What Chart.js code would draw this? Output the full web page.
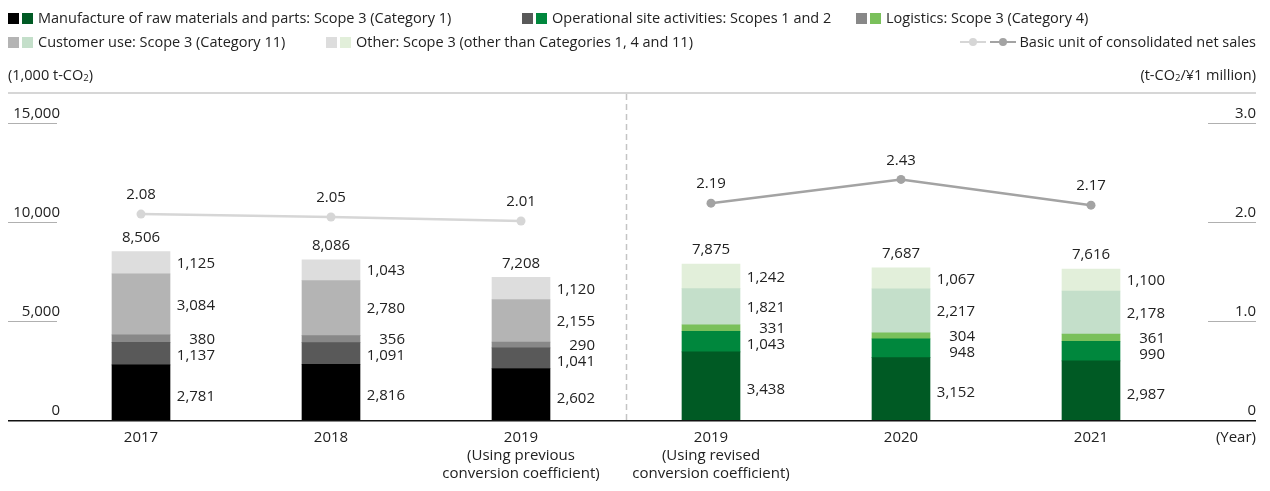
<!DOCTYPE html>
<html>
<head>
<meta charset="utf-8">
<title>CO2 emissions</title>
<script src="https://cdn.jsdelivr.net/npm/chart.js"></script>
<style>
  body {
    margin: 0;
    background: #fff;
    font-family: "Open Sans", sans-serif;
    color: #222;
  }
  .wrap {
    position: relative;
    width: 1270px;
    height: 491px;
  }
  .legend-item {
    position: absolute;
    font-size: 14.5px;
    line-height: 18px;
    white-space: nowrap;
    display: flex;
    align-items: center;
  }
  .sw {
    display: inline-block;
    width: 11px;
    height: 11px;
    margin-right: 3px;
  }
  .ln {
    position: relative;
    display: inline-block;
    width: 26px;
    height: 2px;
    margin-right: 4px;
  }
  .ln i {
    position: absolute;
    left: 9px;
    top: -3px;
    width: 8px;
    height: 8px;
    border-radius: 50%;
  }
  .unit {
    position: absolute;
    top: 66px;
    font-size: 14.5px;
    line-height: 18px;
  }
  .unit sub {
    font-size: 9.5px;
    vertical-align: -1px;
  }
</style>
</head>
<body>
<div class="wrap">
  <canvas id="emissionsChart" width="1270" height="491"></canvas>
  <div id="legend"></div>
  <div class="unit" style="left:8px">(1,000 t-CO<sub>2</sub>)</div>
  <div class="unit" style="right:14px">(t-CO<sub>2</sub>/¥1 million)</div>
</div>

<script>
  // 연도 / 값
  const years = ['2017', '2018', '2019', '2019', '2020', '2021'];
  const yearNotes = [[], [], ['(Using previous', 'conversion coefficient)'], ['(Using revised', 'conversion coefficient)'], [], []];
  const manufacture = [2781, 2816, 2602, 3438, 3152, 2987];
  const operational = [1137, 1091, 1041, 1043, 948, 990];
  const logistics = [380, 356, 290, 331, 304, 361];
  const customerUse = [3084, 2780, 2155, 1821, 2217, 2178];
  const other = [1125, 1043, 1120, 1242, 1067, 1100];
  const totals = [8506, 8086, 7208, 7875, 7687, 7616];
  const unitPrevious = [2.08, 2.05, 2.01, null, null, null];
  const unitRevised = [null, null, null, 2.19, 2.43, 2.17];
  const leftTicks = [0, 5000, 10000, 15000];
  const rightTicks = [0, 1, 2, 3];

  const grays = ['#000000', '#595959', '#888888', '#b4b4b4', '#dddddd'];
  const greens = ['#005a24', '#00873d', '#7ac05b', '#c4dfca', '#e2efda'];
  const linePrevColor = '#d6d6d6';
  const lineRevColor = '#a3a3a3';

  const series = [
    { label: 'Manufacture of raw materials and parts: Scope 3 (Category 1)', data: manufacture },
    { label: 'Operational site activities: Scopes 1 and 2', data: operational },
    { label: 'Logistics: Scope 3 (Category 4)', data: logistics },
    { label: 'Customer use: Scope 3 (Category 11)', data: customerUse },
    { label: 'Other: Scope 3 (other than Categories 1, 4 and 11)', data: other }
  ];

  // 범례 (HTML)
  const legendPos = [[8, 9], [522, 9], [856, 9], [8, 33], [326, 33]];
  const legendBox = document.getElementById('legend');
  series.forEach((s, k) => {
    const item = document.createElement('div');
    item.className = 'legend-item';
    item.style.left = legendPos[k][0] + 'px';
    item.style.top = legendPos[k][1] + 'px';
    item.innerHTML = '<span class="sw" style="background:' + grays[k] + '"></span>' +
      '<span class="sw" style="background:' + greens[k] + ';margin-right:5px"></span>' + s.label;
    legendBox.appendChild(item);
  });
  const lineItem = document.createElement('div');
  lineItem.className = 'legend-item';
  lineItem.style.right = '14px';
  lineItem.style.top = '33px';
  lineItem.innerHTML =
    '<span class="ln" style="background:' + linePrevColor + '"><i style="background:' + linePrevColor + '"></i></span>' +
    '<span class="ln" style="background:' + lineRevColor + '"><i style="background:' + lineRevColor + '"></i></span>' +
    'Basic unit of consolidated net sales';
  legendBox.appendChild(lineItem);

  const fmt = v => v.toLocaleString('en-US');

  // 축, 눈금, 라벨 직접 그리기
  const framePlugin = {
    id: 'frame',
    beforeDatasetsDraw(chart) {
      const ctx = chart.ctx;
      const ya = chart.scales.y, yb = chart.scales.y1, xs = chart.scales.x;
      ctx.save();
      ctx.strokeStyle = '#c8c8c8';
      ctx.lineWidth = 1.5;
      ctx.beginPath();
      ctx.moveTo(8, 93); ctx.lineTo(1256, 93);
      ctx.stroke();

      ctx.strokeStyle = '#b0b0b0';
      ctx.lineWidth = 1.2;
      leftTicks.forEach(v => {
        if (v === 0) return;
        const y = Math.round(ya.getPixelForValue(v)) + 0.5;
        ctx.beginPath(); ctx.moveTo(8, y); ctx.lineTo(57, y); ctx.stroke();
      });
      rightTicks.forEach(v => {
        if (v === 0) return;
        const y = Math.round(yb.getPixelForValue(v)) + 0.5;
        ctx.beginPath(); ctx.moveTo(1208, y); ctx.lineTo(1256, y); ctx.stroke();
      });

      ctx.font = '15px "Open Sans"';
      ctx.fillStyle = '#222';
      ctx.textAlign = 'right';
      ctx.textBaseline = 'alphabetic';
      leftTicks.forEach(v => ctx.fillText(fmt(v), 60, ya.getPixelForValue(v) - 5));
      rightTicks.forEach(v => ctx.fillText(v === 0 ? '0' : v.toFixed(1), 1256, yb.getPixelForValue(v) - 5));

      // 기준 변경 구분선
      const dx = Math.round((xs.getPixelForValue(2) + xs.getPixelForValue(3)) / 2) + 10.5;
      ctx.strokeStyle = '#c4c4c4';
      ctx.lineWidth = 1.5;
      ctx.setLineDash([6, 4]);
      ctx.beginPath(); ctx.moveTo(dx, 94); ctx.lineTo(dx, ya.getPixelForValue(0)); ctx.stroke();
      ctx.restore();
    },
    afterDatasetsDraw(chart) {
      const ctx = chart.ctx;
      const ya = chart.scales.y, xs = chart.scales.x;
      ctx.save();
      const base = ya.getPixelForValue(0);
      ctx.strokeStyle = '#111';
      ctx.lineWidth = 1.6;
      ctx.beginPath(); ctx.moveTo(8, base + 0.8); ctx.lineTo(1256, base + 0.8); ctx.stroke();

      ctx.fillStyle = '#222';
      ctx.font = '15px "Open Sans"';
      ctx.textBaseline = 'middle';

      // 세그먼트 값 라벨 (겹치지 않게 간격 조정)
      years.forEach((_, i) => {
        const els = series.map((s, k) => chart.getDatasetMeta(k).data[i]);
        const mids = els.map(el => (el.y + el.base) / 2);
        const pos = mids.slice();
        pos[1] = Math.max(mids[1], pos[2] + 16);
        pos[0] = Math.max(mids[0] + 3, pos[1] + 16);
        pos[3] = Math.min(mids[3], pos[2] - 16);
        pos[4] = Math.min(mids[4], pos[3] - 16);
        const right = els[0].x + els[0].width / 2 + 45;
        ctx.textAlign = 'right';
        series.forEach((s, k) => ctx.fillText(fmt(s.data[i]), right, pos[k] + 1));

        // 합계
        ctx.textAlign = 'center';
        const top = ya.getPixelForValue(totals[i]);
        ctx.fillText(fmt(totals[i]), els[0].x, top - 14);
      });

      // 원단위 라벨
      [series.length, series.length + 1].forEach(idx => {
        const ds = chart.data.datasets[idx];
        chart.getDatasetMeta(idx).data.forEach((pt, i) => {
          if (ds.data[i] === null) return;
          ctx.textAlign = 'center';
          ctx.fillText(ds.data[i].toFixed(2), pt.x, pt.y - 19);
        });
      });

      // 가로축 라벨
      ctx.font = '15px "Open Sans"';
      ctx.textAlign = 'center';
      years.forEach((yr, i) => {
        const x = xs.getPixelForValue(i);
        ctx.fillText(yr, x, base + 18);
        yearNotes[i].forEach((t, j) => ctx.fillText(t, x, base + 36 + j * 18));
      });
      ctx.textAlign = 'right';
      ctx.fillText('(Year)', 1256, base + 18);
      ctx.restore();
    }
  };

  const datasets = series.map((s, k) => ({
    type: 'bar',
    label: s.label,
    data: s.data,
    backgroundColor: years.map((_, i) => unitRevised[i] !== null ? greens[k] : grays[k]),
    stack: 'total',
    barThickness: 58,
    yAxisID: 'y',
    order: 2
  }));
  [[unitPrevious, linePrevColor], [unitRevised, lineRevColor]].forEach(([vals, color]) => {
    datasets.push({
      type: 'line',
      label: 'Basic unit of consolidated net sales',
      data: vals,
      borderColor: color,
      backgroundColor: color,
      pointBackgroundColor: color,
      pointBorderWidth: 0,
      pointRadius: 4.5,
      borderWidth: 2.5,
      tension: 0,
      yAxisID: 'y1',
      order: 0
    });
  });

  new Chart(document.getElementById('emissionsChart'), {
    data: { labels: years, datasets: datasets },
    options: {
      responsive: false,
      animation: false,
      layout: { padding: { left: 46, right: 84, top: 123, bottom: 71 } },
      scales: {
        x: { display: false, stacked: true, grid: { display: false } },
        y: { display: false, stacked: true, min: 0, max: 15000 },
        y1: { display: false, min: 0, max: 3 }
      },
      plugins: {
        legend: { display: false },
        tooltip: { enabled: false }
      }
    },
    plugins: [framePlugin]
  });
</script>
</body>
</html>
